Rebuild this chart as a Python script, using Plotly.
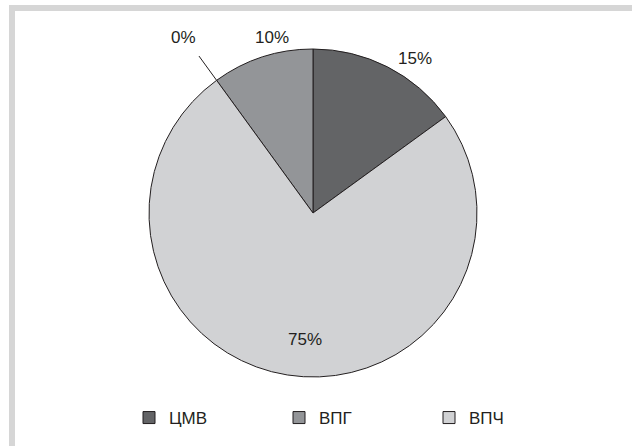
import math
import plotly.graph_objects as go

# Infection shares (percent), in legend order
labels = ["ЦМВ", "ВПГ", "ВПЧ"]
values = [15, 10, 75]
colors = ["#636466", "#939598", "#d1d2d4"]

# Category with a zero share, sitting between ВПГ and ВПЧ
zero_value = 0

W, H = 632, 446
CX, CY, R = 313, 213, 164  # pie centre and radius in pixels

# label placement: (angle offset from slice middle in degrees, distance from centre in px)
label_place = {"ЦМВ": (6.3, 185), "ВПГ": (4.8, 180), "ВПЧ": (-5.4, 127)}
zero_label_place = (-0.6, 218)
leader_r = (R, 194)

TEXT_COLOR = "#231f20"
FONT = "Liberation Sans, Arial, sans-serif"


def px_to_paper(x, y):
    return x / W, 1 - y / H


def polar(angle_deg, r):
    a = math.radians(angle_deg)
    return CX + r * math.sin(a), CY - r * math.cos(a)


def label(x, y, text):
    px, py = px_to_paper(x, y)
    return dict(x=px, y=py, xref="paper", yref="paper", text=text,
                xanchor="center", yanchor="middle", showarrow=False,
                font=dict(size=17, color=TEXT_COLOR, family=FONT))


fig = go.Figure(
    go.Pie(
        labels=labels,
        values=values,
        sort=False,
        direction="counterclockwise",
        rotation=0,
        marker=dict(colors=colors, line=dict(color=TEXT_COLOR, width=1)),
        textinfo="none",
        hoverinfo="label+percent",
        domain=dict(
            x=[(CX - R) / W, (CX + R) / W],
            y=[(H - CY - R) / H, (H - CY + R) / H],
        ),
    )
)

# slice angles (clockwise from 12 o'clock), following the counterclockwise layout
total = sum(values) + zero_value
angle = values[0] / total * 360
annotations = []
zero_angle = 0.0
for lab, v in zip(labels, values):
    span = v / total * 360
    mid = angle - span / 2
    off, r = label_place[lab]
    annotations.append(label(*polar(mid + off, r), f"{v}%"))
    angle -= span
    if lab == "ВПГ":
        zero_angle = angle

# zero-share leader line and its label
p0 = px_to_paper(*polar(zero_angle, leader_r[0]))
p1 = px_to_paper(*polar(zero_angle, leader_r[1]))
annotations.append(label(*polar(zero_angle + zero_label_place[0], zero_label_place[1]),
                         f"{zero_value}%"))

shapes = [
    dict(type="line", xref="paper", yref="paper", x0=p0[0], y0=p0[1], x1=p1[0], y1=p1[1],
         line=dict(color=TEXT_COLOR, width=1)),
    # frame bands along the top and left edges
    dict(type="rect", xref="paper", yref="paper", x0=9 / W, x1=1, y0=1 - 11 / H, y1=1 - 5 / H,
         fillcolor="#d6d6d6", line=dict(width=0), layer="below"),
    dict(type="rect", xref="paper", yref="paper", x0=9 / W, x1=15 / W, y0=0, y1=1 - 5 / H,
         fillcolor="#d6d6d6", line=dict(width=0), layer="below"),
]

fig.update_layout(
    width=W,
    height=H,
    margin=dict(l=0, r=0, t=0, b=0),
    paper_bgcolor="white",
    plot_bgcolor="white",
    font=dict(family=FONT, size=17, color=TEXT_COLOR),
    annotations=annotations,
    shapes=shapes,
    showlegend=True,
    legend=dict(
        orientation="h",
        x=129 / W,
        xanchor="left",
        y=28 / H,
        yanchor="middle",
        entrywidth=105,
        entrywidthmode="pixels",
        font=dict(size=17, color=TEXT_COLOR, family=FONT),
        bgcolor="rgba(0,0,0,0)",
    ),
)

fig.write_html("out.html")
